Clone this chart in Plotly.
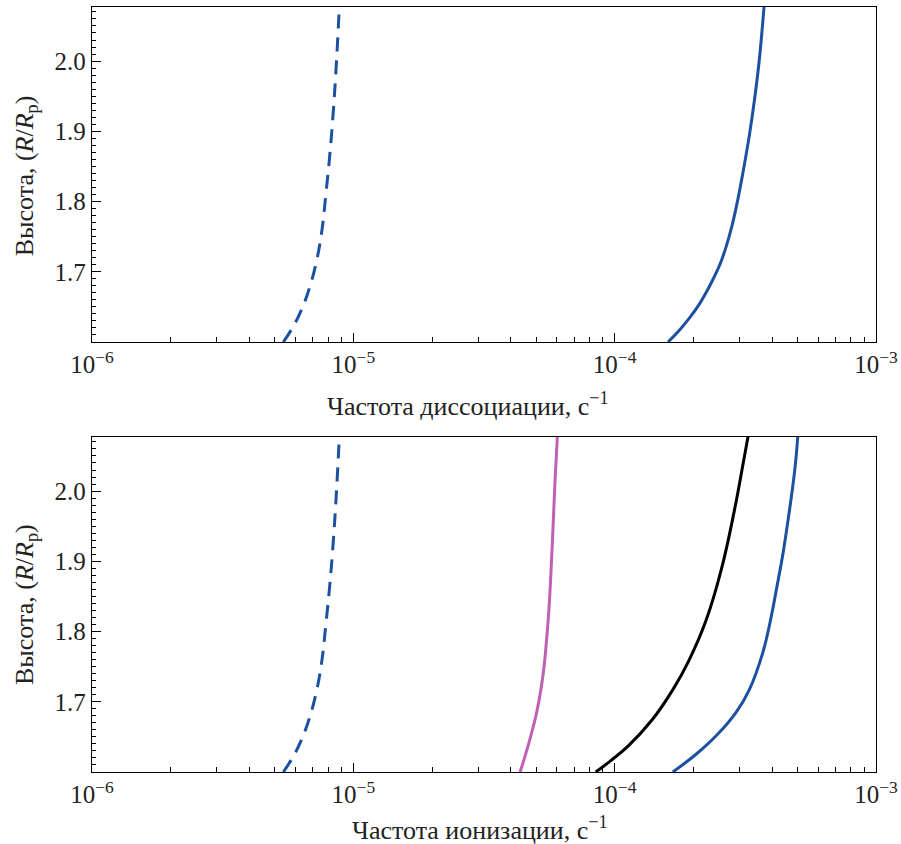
import plotly.graph_objects as go

# ---- data ----
# dashed curve (same in both panels)
R_dash = [1.600, 1.624, 1.653, 1.681, 1.717, 1.760, 1.810, 1.867, 1.931, 2.003, 2.078]
nu_dash = [5.397e-6, 5.930e-6, 6.448e-6, 6.846e-6, 7.249e-6, 7.589e-6, 7.848e-6,
           8.130e-6, 8.391e-6, 8.631e-6, 8.839e-6]

# top panel solid blue (dissociation)
R_diss = [1.600, 1.617, 1.634, 1.651, 1.669, 1.689, 1.711, 1.737, 1.766, 1.803,
          1.846, 1.896, 1.946, 2.003, 2.078]
nu_diss = [1.601e-4, 1.772e-4, 1.931e-4, 2.085e-4, 2.228e-4, 2.377e-4, 2.532e-4,
           2.677e-4, 2.814e-4, 2.960e-4, 3.113e-4, 3.282e-4, 3.431e-4, 3.579e-4, 3.730e-4]

# bottom panel
R_pink = [1.600, 1.624, 1.653, 1.685, 1.717, 1.752, 1.788, 1.830, 1.887, 1.959, 2.015, 2.078]
nu_pink = [4.345e-5, 4.553e-5, 4.787e-5, 5.030e-5, 5.220e-5, 5.375e-5, 5.487e-5,
           5.600e-5, 5.709e-5, 5.826e-5, 5.914e-5, 6.036e-5]

R_black = [1.600, 1.617, 1.638, 1.674, 1.717, 1.758, 1.816, 1.887, 1.970, 2.041, 2.078]
nu_black = [8.467e-5, 9.729e-5, 1.133e-4, 1.389e-4, 1.668e-4, 1.919e-4, 2.238e-4,
            2.554e-4, 2.863e-4, 3.108e-4, 3.240e-4]

R_blue = [1.600, 1.626, 1.653, 1.685, 1.717, 1.769, 1.816, 1.863, 1.912, 1.959,
          2.005, 2.041, 2.078]
nu_blue = [1.669e-4, 2.060e-4, 2.466e-4, 2.915e-4, 3.274e-4, 3.682e-4, 3.947e-4,
           4.173e-4, 4.410e-4, 4.609e-4, 4.795e-4, 4.924e-4, 5.020e-4]

x_major = [1e-6, 1e-5, 1e-4, 1e-3]
x_major_text = ["10<sup>−6</sup>", "10<sup>−5</sup>", "10<sup>−4</sup>", "10<sup>−3</sup>"]
x_minor = [m * d for d in [1e-6, 1e-5, 1e-4] for m in range(2, 10)]
y_major = [1.7, 1.8, 1.9, 2.0]
y_major_text = ["1.7", "1.8", "1.9", "2.0"]
y_minor = [round(1.6 + 0.01 * i, 2) for i in range(0, 48)]

title_top = "Частота диссоциации, с<sup>−1</sup>"
title_bottom = "Частота ионизации, с<sup>−1</sup>"
title_y = "Высота, (<i>R</i>/<i>R</i><sub>p</sub>)"

BLUE = "#1c50a0"
PINK = "#c060b2"
BLACK = "#000000"
FONT = "Liberation Serif"
TXT = "#222222"

fig = go.Figure()

def line(x, y, color, dash=None, xa="x", ya="y", width=3):
    fig.add_trace(go.Scatter(
        x=x, y=y, mode="lines", xaxis=xa, yaxis=ya,
        line=dict(color=color, width=width, dash=dash, shape="spline", smoothing=1.2),
        showlegend=False, hoverinfo="skip", cliponaxis=True))

DASH = "14px,9px"
# top panel
line(nu_dash, R_dash, BLUE, dash=DASH, xa="x", ya="y")
line(nu_diss, R_diss, BLUE, xa="x", ya="y")
# bottom panel
line(nu_dash, R_dash, BLUE, dash=DASH, xa="x2", ya="y2")
line(nu_pink, R_pink, PINK, xa="x2", ya="y2")
line(nu_black, R_black, BLACK, xa="x2", ya="y2")
line(nu_blue, R_blue, BLUE, xa="x2", ya="y2")

xcommon = dict(
    type="log", range=[-6, -3], showline=True, linecolor="black", linewidth=1.3,
    mirror=True, ticks="inside", ticklen=9, tickwidth=1.2, tickcolor="black",
    tickvals=x_major, ticktext=x_major_text, showgrid=False, zeroline=False,
    automargin=False,
    tickfont=dict(family=FONT, size=25, color=TXT),
    minor=dict(tickvals=x_minor, ticks="inside", ticklen=5, tickwidth=1.1,
               tickcolor="black", showgrid=False),
)
ycommon = dict(
    range=[1.6, 2.077], showline=True, linecolor="black", linewidth=1.3,
    mirror=True, ticks="inside", ticklen=9, tickwidth=1.2, tickcolor="black",
    tickvals=y_major, ticktext=y_major_text, showgrid=False, zeroline=False,
    automargin=False,
    tickfont=dict(family=FONT, size=25, color=TXT),
    minor=dict(tickvals=y_minor, ticks="inside", ticklen=4, tickwidth=1.1,
               tickcolor="black", showgrid=False),
)

tfont = dict(family=FONT, size=26, color=TXT)
annotations = [
    dict(text=title_top, xref="paper", yref="paper", x=0.4796, y=0.481,
         xanchor="center", yanchor="middle", showarrow=False, font=tfont),
    dict(text=title_bottom, xref="paper", yref="paper", x=0.495, y=-0.0745,
         xanchor="center", yanchor="middle", showarrow=False, font=tfont),
    dict(text=title_y, xref="paper", yref="paper", x=-0.0842, y=0.780, textangle=-90,
         xanchor="center", yanchor="middle", showarrow=False, font=tfont),
    dict(text=title_y, xref="paper", yref="paper", x=-0.0842, y=0.2196, textangle=-90,
         xanchor="center", yanchor="middle", showarrow=False, font=tfont),
]

fig.update_layout(
    width=901, height=844,
    margin=dict(l=92, r=25, t=7, b=72, autoexpand=False),
    plot_bgcolor="white", paper_bgcolor="white",
    xaxis=dict(domain=[0, 1], anchor="y", **xcommon),
    yaxis=dict(domain=[0.5621, 1.0], anchor="x", **ycommon),
    xaxis2=dict(domain=[0, 1], anchor="y2", **xcommon),
    yaxis2=dict(domain=[0.0, 0.4379], anchor="x2", **ycommon),
    annotations=annotations,
)

fig.write_html("out.html")
